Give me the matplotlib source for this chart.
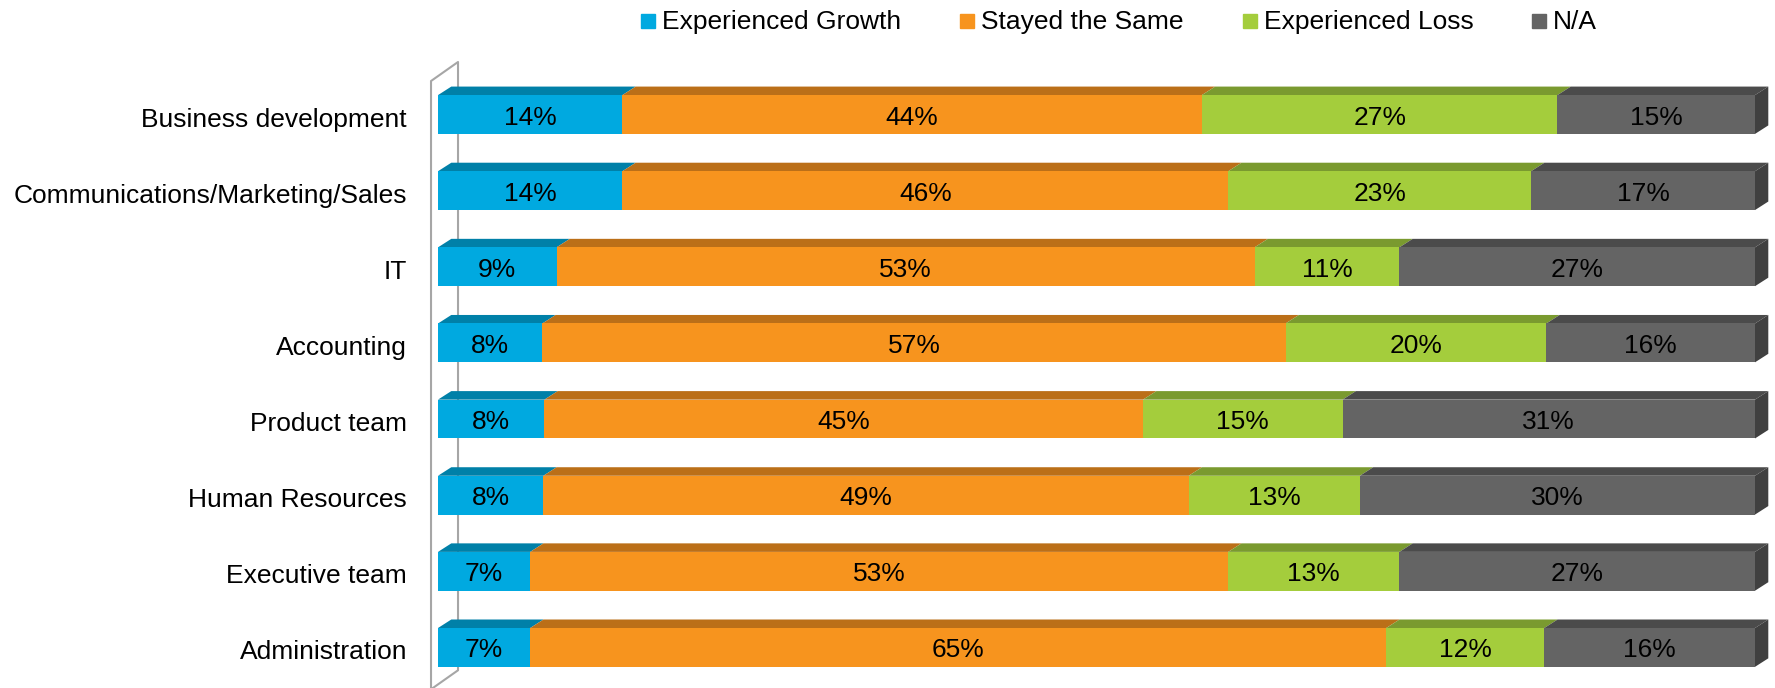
import numpy as np
import matplotlib
matplotlib.use("Agg")
import matplotlib.pyplot as plt
from matplotlib.patches import Rectangle

plt.rcParams["font.family"] = ["Liberation Sans", "DejaVu Sans"]

# ---------- DATA ----------
departments = [
    "Business development",
    "Communications/Marketing/Sales",
    "IT",
    "Accounting",
    "Product team",
    "Human Resources",
    "Executive team",
    "Administration",
]
series_names = ["Experienced Growth", "Stayed the Same", "Experienced Loss", "N/A"]
growth = [14, 14, 9, 8, 8, 8, 7, 7]
same = [44, 46, 53, 57, 45, 49, 53, 65]
loss = [27, 23, 11, 20, 15, 13, 13, 12]
na = [15, 17, 27, 16, 31, 30, 27, 16]

# ---------- STYLE ----------
front_colors = ["#00A9E0", "#F7941E", "#A4CD3C", "#646464"]
top_colors = ["#0080A8", "#BB6F18", "#7A9A2F", "#4B4B4B"]
side_color = "#404040"
wall_color = "#A6A6A6"
FS = 19

bar_h = 0.51      # front face height (row units)
dx = 1.01         # depth offset along x (percent units)
dy = 0.112        # depth offset along y (row units)

W, H = 1775, 688
fig = plt.figure(figsize=(W / 100, H / 100), dpi=100)
ax = fig.add_axes([438 / W, 1 - 685.5 / H, 1317 / W, (685.5 - 76.45) / H])
ax.set_xlim(0, 100)
ax.set_ylim(7.5, -0.5)
ax.axis("off")

# back wall of the 3D plot area
ax.plot([-0.53, -0.53, 1.52, 1.52, -0.53], [8.0, -0.44, -0.69, 7.30, 7.55],
        color=wall_color, lw=1.5, clip_on=False, zorder=1)

data = np.array([growth, same, loss, na], dtype=float)
totals = data.sum(axis=0)
shares = data / totals * 100

y = np.arange(len(departments))
left = np.zeros(len(departments))
for k in range(4):
    w = shares[k]
    ax.barh(y, w, left=left, height=bar_h, color=front_colors[k], zorder=3)
    for i in range(len(departments)):
        x0, x1 = left[i], left[i] + w[i]
        yt = y[i] - bar_h / 2
        ax.fill([x0, x1, x1 + dx, x0 + dx], [yt, yt, yt - dy, yt - dy],
                color=top_colors[k], lw=0, clip_on=False, zorder=2)
        ax.annotate(f"{int(data[k, i])}%", xy=((x0 + x1) / 2, y[i]),
                    xytext=(0, -3), textcoords="offset pixels",
                    ha="center", va="center", fontsize=FS, color="black",
                    zorder=5)
    left = left + w

# right side face of each bar
for i in range(len(departments)):
    yt, yb = y[i] - bar_h / 2, y[i] + bar_h / 2
    x1 = left[i]
    ax.fill([x1, x1 + dx, x1 + dx, x1], [yt, yt - dy, yb - dy, yb],
            color=side_color, lw=0, clip_on=False, zorder=2)

# category labels
for i, name in enumerate(departments):
    ax.annotate(name, xy=(0, y[i]), xytext=(-31, -5), textcoords="offset pixels",
                ha="right", va="center", fontsize=FS, color="black")

# legend across the top
legend_x = [641, 960, 1243, 1532]
for name, col, px in zip(series_names, front_colors, legend_x):
    fig.patches.append(Rectangle((px / W, 1 - 28 / H), 14 / W, 14 / H,
                                 transform=fig.transFigure, color=col))
    fig.text((px + 21) / W, 1 - 22 / H, name, ha="left", va="center",
             fontsize=FS, color="black")

fig.savefig("out.png", dpi=100, facecolor="white")
